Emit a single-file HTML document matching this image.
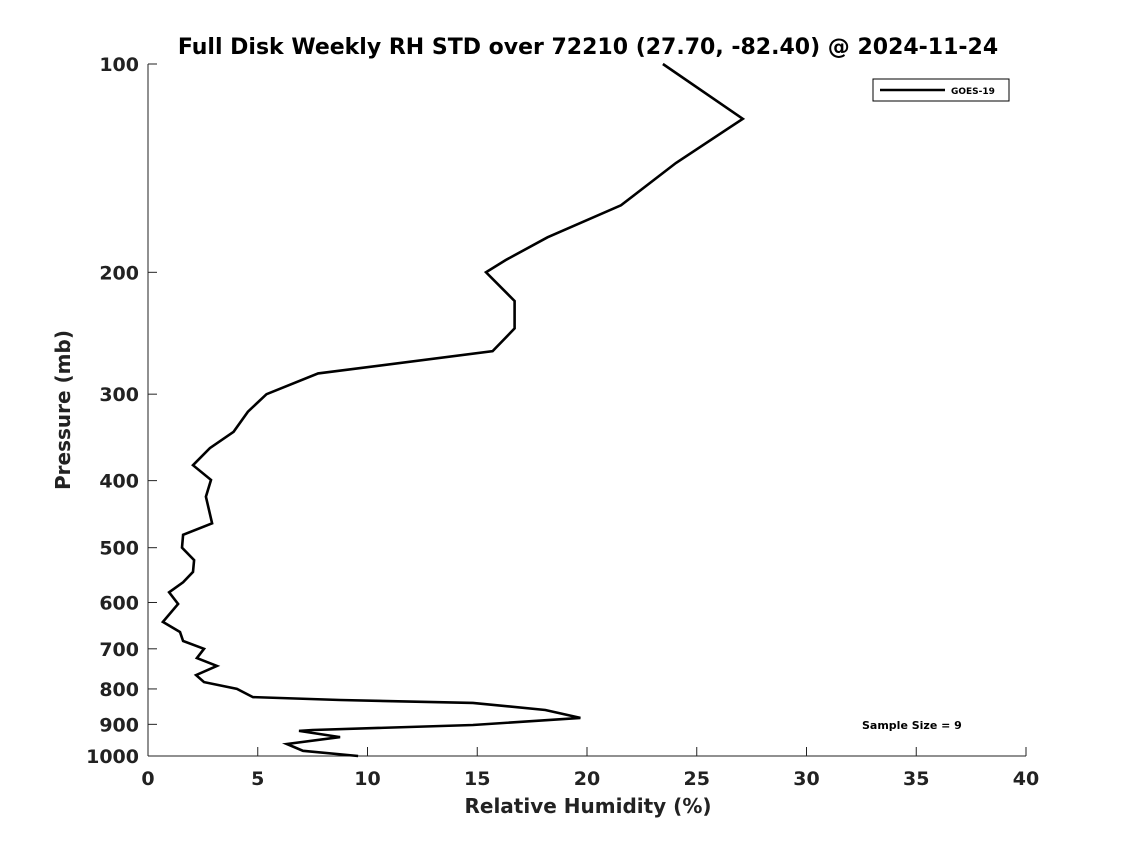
<!DOCTYPE html>
<html><head><meta charset="utf-8"><style>
html,body{margin:0;padding:0;background:#fff;}
svg{display:block;font-family:"DejaVu Sans","Liberation Sans",sans-serif;}
</style></head><body>
<svg id="chart" width="1135" height="851" viewBox="0 0 1135 851" xmlns="http://www.w3.org/2000/svg">
<rect width="1135" height="851" fill="#fff"/>
<text x="588" y="54" text-anchor="middle" font-size="22" font-weight="bold" fill="#000">Full Disk Weekly RH STD over 72210 (27.70, -82.40) @ 2024-11-24</text>
<g id="axes"></g>
<g id="series"></g>
<g>
<rect x="873" y="79" width="136" height="22" fill="#fff" stroke="#000" stroke-width="1"/>
<line x1="880" y1="90" x2="945" y2="90" stroke="#000" stroke-width="2.5"/>
<text x="951" y="94" font-size="9" font-weight="bold">GOES-19</text>
</g>
<text x="862" y="729" font-size="11" font-weight="bold">Sample Size = 9</text>
<text x="588" y="813" text-anchor="middle" font-size="20" font-weight="bold" fill="#222">Relative Humidity (%)</text>
<text transform="translate(70,410) rotate(-90)" text-anchor="middle" font-size="20" font-weight="bold" fill="#222">Pressure (mb)</text>
</svg>
<script>
const xTicks = [0,5,10,15,20,25,30,35,40];
const yTicks = [100,200,300,400,500,600,700,800,900,1000];
const rhValues = [23.46,27.1,24.05,21.55,18.2,16.3,15.4,16.7,16.7,15.7,7.75,5.4,4.55,3.9,2.82,2.05,2.87,2.64,2.92,1.6,1.55,2.1,2.05,1.6,0.96,1.37,0.68,1.46,1.6,2.55,2.23,3.14,2.19,2.55,4.05,4.78,8.75,14.8,18.1,19.7,14.8,7.5,6.88,8.75,6.33,7.06,9.57];
const pressures = [100,120,139,160,178,192,200,220,241,260,280,300,318,340,359,380,399,422,461,479,500,521,542,561,580,603,640,662,682,700,722,741,764,782,800,822,830,838,858,881,902,917,920,939,961,983,1000];
const X0=148,X1=1026,Y0=64,Y1=756;
const xs = v => X0 + (v-0)/(40-0)*(X1-X0);
const ys = p => Y0 + Math.log10(p/100)*(Y1-Y0);
const NS="http://www.w3.org/2000/svg";
const axes=document.getElementById('axes');
function mk(tag,attrs,parent){const e=document.createElementNS(NS,tag);for(const k in attrs)e.setAttribute(k,attrs[k]);parent.appendChild(e);return e;}
const xl=mk('line',{x1:X0,y1:Y1,x2:X1,y2:Y1,stroke:'#222','stroke-width':1},axes);


const yl=mk('line',{x1:X0,y1:Y0,x2:X0,y2:Y1,stroke:'#222','stroke-width':1},axes);


xTicks.forEach(t=>{
  mk('line',{x1:xs(t),y1:Y1,x2:xs(t),y2:Y1-9,stroke:'#222'},axes);
  const tx=mk('text',{x:xs(t),y:Y1+29,'text-anchor':'middle','font-size':19,'font-weight':'bold',fill:'#222'},axes);
  tx.textContent=t;
  
  
});
yTicks.forEach(t=>{
  mk('line',{x1:X0,y1:ys(t),x2:X0+9,y2:ys(t),stroke:'#222'},axes);
  const tx=mk('text',{x:X0-9,y:ys(t)+7,'text-anchor':'end','font-size':19,'font-weight':'bold',fill:'#222'},axes);
  tx.textContent=t;
  
  
});
const pts=rhValues.map((v,i)=>xs(v).toFixed(1)+','+ys(pressures[i]).toFixed(1)).join(' ');
const line=mk('polyline',{points:pts,fill:'none',stroke:'#000','stroke-width':2.6,'stroke-linejoin':'miter'},document.getElementById('series'));


</script>
</body></html>
